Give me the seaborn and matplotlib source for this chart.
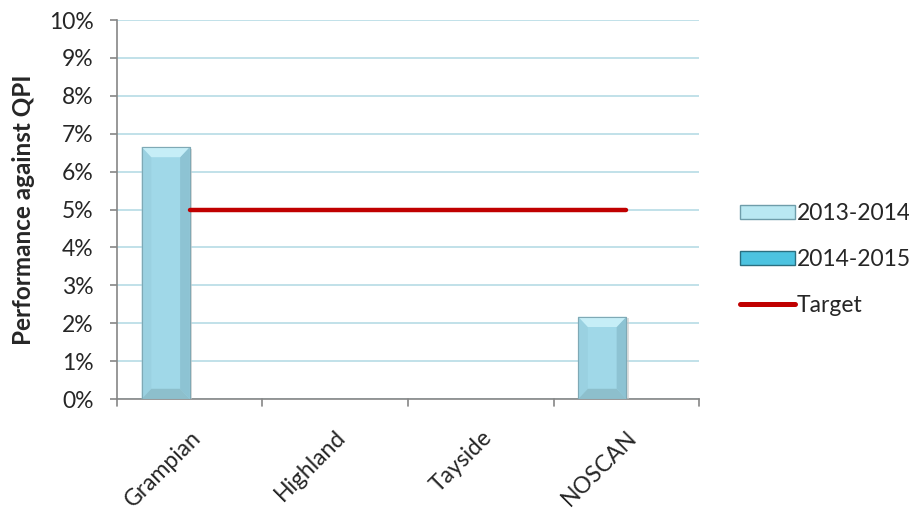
import numpy as np
import pandas as pd
import matplotlib
matplotlib.use("Agg")
import matplotlib.pyplot as plt
from matplotlib.patches import Polygon, Rectangle
from matplotlib.lines import Line2D
import seaborn as sns

categories = ["Grampian", "Highland", "Tayside", "NOSCAN"]
series_names = ["2013-2014", "2014-2015"]
values_2013_2014 = [6.65, 0.0, 0.0, 2.17]
values_2014_2015 = [0.0, 0.0, 0.0, 0.0]
target = [5.0, 5.0, 5.0, 5.0]
yticks = list(range(0, 11))

sns.set_style("white")
plt.rcParams["font.family"] = ["Lato", "DejaVu Sans"]

FS = 16.5

df = pd.DataFrame({
    "region": categories * 2,
    "period": [series_names[0]] * 4 + [series_names[1]] * 4,
    "value": values_2013_2014 + values_2014_2015,
})

face_colors = {"2013-2014": "#A0D8E8", "2014-2015": "#3FB8D6"}

fig = plt.figure(figsize=(9.09, 5.09), dpi=100)
ax = fig.add_axes([0.1287, 0.2161, 0.6403, 0.7446])

sns.barplot(data=df, x="region", y="value", hue="period", order=categories,
            hue_order=series_names, palette=face_colors, width=0.66,
            gap=0, ax=ax, legend=False, saturation=1, zorder=3)

# bevelled look on the bars, derived from each patch's own bounds
for patch in list(ax.patches):
    x0, y0 = patch.get_x(), patch.get_y()
    w, h = patch.get_width(), patch.get_height()
    if h <= 0:
        patch.set_visible(False)
        continue
    patch.set_edgecolor("#7FA9B5")
    patch.set_linewidth(0.8)
    bx = w * 0.2
    by = min(0.27, h / 2)
    top = y0 + h
    shapes = [
        ([(x0, y0), (x0, top), (x0 + bx, top - by), (x0 + bx, y0 + by)], "#9AD1E1"),
        ([(x0 + w, y0), (x0 + w, top), (x0 + w - bx, top - by), (x0 + w - bx, y0 + by)], "#8DC3D3"),
        ([(x0, top), (x0 + w, top), (x0 + w - bx, top - by), (x0 + bx, top - by)], "#C6EEF7"),
        ([(x0, y0), (x0 + w, y0), (x0 + w - bx, y0 + by), (x0 + bx, y0 + by)], "#8DBFCC"),
    ]
    for pts, c in shapes:
        ax.add_patch(Polygon(pts, closed=True, facecolor=c, edgecolor="none", zorder=3.5))
    ax.add_patch(Rectangle((x0, y0), w, h, facecolor="none", edgecolor="#7FA9B5",
                           linewidth=0.8, zorder=3.6))
    # soft shadow at the right side
    ax.add_patch(Rectangle((x0 + w, y0), w * 0.05, h * 0.99, facecolor="#C8C8C8",
                           edgecolor="none", alpha=0.6, zorder=2.9))

ax.plot(range(len(categories)), target, color="#C00000", linewidth=3.2,
        solid_capstyle="round", zorder=4)

ax.set_ylim(0, 10)
ax.set_xlim(-0.5, len(categories) - 0.5)
ax.set_yticks(yticks)
ax.set_yticklabels([f"{t}%" for t in yticks], fontsize=FS)
ax.yaxis.grid(True, color="#B6DCE5", linewidth=1.2, zorder=0)
ax.set_axisbelow(True)

ax.set_xticks(range(len(categories)))
ax.set_xticklabels(categories, rotation=45, ha="right", rotation_mode="anchor", fontsize=FS)
ax.tick_params(axis="x", length=0, pad=20)
for b in np.arange(-0.5, len(categories), 1.0):
    ax.plot([b, b], [0, -0.18], color="#868686", linewidth=1.2, clip_on=False, zorder=5)
ax.tick_params(axis="y", length=5, width=1.2, color="#868686", left=True, pad=12)

ax.set_xlabel("")
ax.set_ylabel("Performance against QPI", fontsize=17.5, fontweight="bold", labelpad=10)

for side in ["top", "right"]:
    ax.spines[side].set_visible(False)
for side in ["left", "bottom"]:
    ax.spines[side].set_color("#868686")
    ax.spines[side].set_linewidth(1.2)

handles = [
    Rectangle((0, 0), 1, 1, facecolor="#B9E8F2", edgecolor="#6E9DAA", linewidth=1),
    Rectangle((0, 0), 1, 1, facecolor="#4CC3E0", edgecolor="#2A6F80", linewidth=1),
    Line2D([0], [0], color="#C00000", linewidth=3.6, solid_capstyle="round"),
]
ax.legend(handles, ["2013-2014", "2014-2015", "Target"], loc="center left",
          bbox_to_anchor=(1.07, 0.368), frameon=False, fontsize=FS,
          borderaxespad=0, borderpad=0,
          handlelength=2.4, handleheight=0.52, handletextpad=0.08, labelspacing=1.08)

fig.savefig("out.png", dpi=100)
